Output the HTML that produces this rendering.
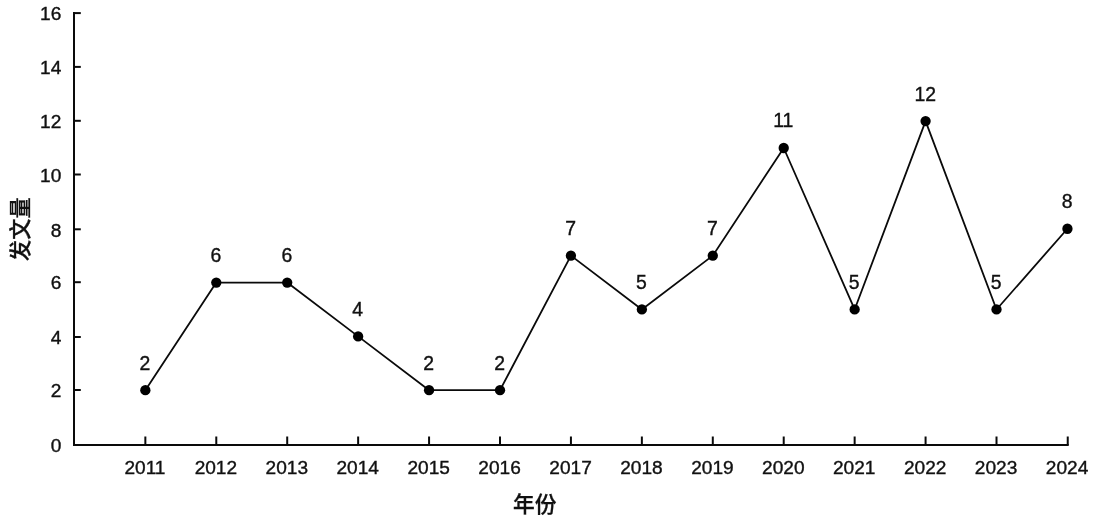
<!DOCTYPE html>
<html lang="zh"><head><meta charset="utf-8"><title>发文量</title>
<style>html,body{margin:0;padding:0;background:#fff}body{width:1095px;height:516px;overflow:hidden}svg{display:block}text{font-family:"Liberation Sans","Noto Sans CJK SC",sans-serif;fill:#111}.t{stroke:#111;stroke-width:0.38px}.c{font-weight:500;stroke:#111;stroke-width:0.3px}</style></head><body>
<svg width="1095" height="516" viewBox="0 0 1095 516">
<rect width="1095" height="516" fill="#fff"/>
<g stroke="#0a0a0a" fill="none" stroke-linecap="butt">
<path d="M74.0 12.10V444.9H1068.74" stroke-width="2" stroke-linejoin="miter"/>
<path d="M74.0 390.00h6.8" stroke-width="2"/>
<path d="M74.0 337.00h6.8" stroke-width="2"/>
<path d="M74.0 282.20h6.8" stroke-width="2"/>
<path d="M74.0 229.30h6.8" stroke-width="2"/>
<path d="M74.0 174.50h6.8" stroke-width="2"/>
<path d="M74.0 120.80h6.8" stroke-width="2"/>
<path d="M74.0 66.90h6.8" stroke-width="2"/>
<path d="M74.0 13.10h6.8" stroke-width="2"/>
<path d="M145.35 444.9v-8.4" stroke-width="2"/>
<path d="M216.28 444.9v-8.4" stroke-width="2"/>
<path d="M287.21 444.9v-8.4" stroke-width="2"/>
<path d="M358.14 444.9v-8.4" stroke-width="2"/>
<path d="M429.07 444.9v-8.4" stroke-width="2"/>
<path d="M500.00 444.9v-8.4" stroke-width="2"/>
<path d="M570.93 444.9v-8.4" stroke-width="2"/>
<path d="M641.86 444.9v-8.4" stroke-width="2"/>
<path d="M712.79 444.9v-8.4" stroke-width="2"/>
<path d="M783.72 444.9v-8.4" stroke-width="2"/>
<path d="M854.65 444.9v-8.4" stroke-width="2"/>
<path d="M925.58 444.9v-8.4" stroke-width="2"/>
<path d="M996.51 444.9v-8.4" stroke-width="2"/>
<path d="M1067.74 444.9v-8.4" stroke-width="2"/>
<polyline points="145.35,390.20 216.28,282.56 287.21,282.56 358.14,336.38 429.07,390.20 500.00,390.20 570.93,255.65 641.86,309.47 712.79,255.65 783.72,148.01 854.65,309.47 925.58,121.10 996.51,309.47 1067.44,228.74" stroke-width="1.8" stroke-linejoin="round"/>
</g>
<g fill="#000">
<circle cx="145.35" cy="390.20" r="5.15"/>
<circle cx="216.28" cy="282.56" r="5.15"/>
<circle cx="287.21" cy="282.56" r="5.15"/>
<circle cx="358.14" cy="336.38" r="5.15"/>
<circle cx="429.07" cy="390.20" r="5.15"/>
<circle cx="500.00" cy="390.20" r="5.15"/>
<circle cx="570.93" cy="255.65" r="5.15"/>
<circle cx="641.86" cy="309.47" r="5.15"/>
<circle cx="712.79" cy="255.65" r="5.15"/>
<circle cx="783.72" cy="148.01" r="5.15"/>
<circle cx="854.65" cy="309.47" r="5.15"/>
<circle cx="925.58" cy="121.10" r="5.15"/>
<circle cx="996.51" cy="309.47" r="5.15"/>
<circle cx="1067.44" cy="228.74" r="5.15"/>
</g>
<g class="t" font-size="19.1" text-anchor="end">
<text x="61.3" y="452.10">0</text>
<text x="61.3" y="397.20">2</text>
<text x="61.3" y="344.20">4</text>
<text x="61.3" y="289.40">6</text>
<text x="61.3" y="236.50">8</text>
<text x="61.3" y="181.70">10</text>
<text x="61.3" y="128.00">12</text>
<text x="61.3" y="74.10">14</text>
<text x="61.3" y="20.30">16</text>
</g>
<g class="t" font-size="19.1" text-anchor="middle">
<text x="144.95" y="474.4">2011</text>
<text x="215.88" y="474.4">2012</text>
<text x="286.81" y="474.4">2013</text>
<text x="357.74" y="474.4">2014</text>
<text x="428.67" y="474.4">2015</text>
<text x="499.60" y="474.4">2016</text>
<text x="570.53" y="474.4">2017</text>
<text x="641.46" y="474.4">2018</text>
<text x="712.39" y="474.4">2019</text>
<text x="783.32" y="474.4">2020</text>
<text x="854.25" y="474.4">2021</text>
<text x="925.18" y="474.4">2022</text>
<text x="996.11" y="474.4">2023</text>
<text x="1067.04" y="474.4">2024</text>
</g>
<g class="t" font-size="19.4" text-anchor="middle">
<text x="144.95" y="369.60">2</text>
<text x="215.88" y="261.96">6</text>
<text x="286.81" y="261.96">6</text>
<text x="357.74" y="315.78">4</text>
<text x="428.67" y="369.60">2</text>
<text x="499.60" y="369.60">2</text>
<text x="570.53" y="235.05">7</text>
<text x="641.46" y="288.87">5</text>
<text x="712.39" y="235.05">7</text>
<text x="783.32" y="127.41">11</text>
<text x="854.25" y="288.87">5</text>
<text x="925.18" y="100.50">12</text>
<text x="996.11" y="288.87">5</text>
<text x="1067.04" y="208.14">8</text>
</g>
<text class="c" font-size="21.7" text-anchor="middle" x="534.7" y="512.2">年份</text>
<text class="c" font-size="21.2" text-anchor="middle" transform="translate(28 229.2) rotate(-90)">发文量</text>
</svg></body></html>
